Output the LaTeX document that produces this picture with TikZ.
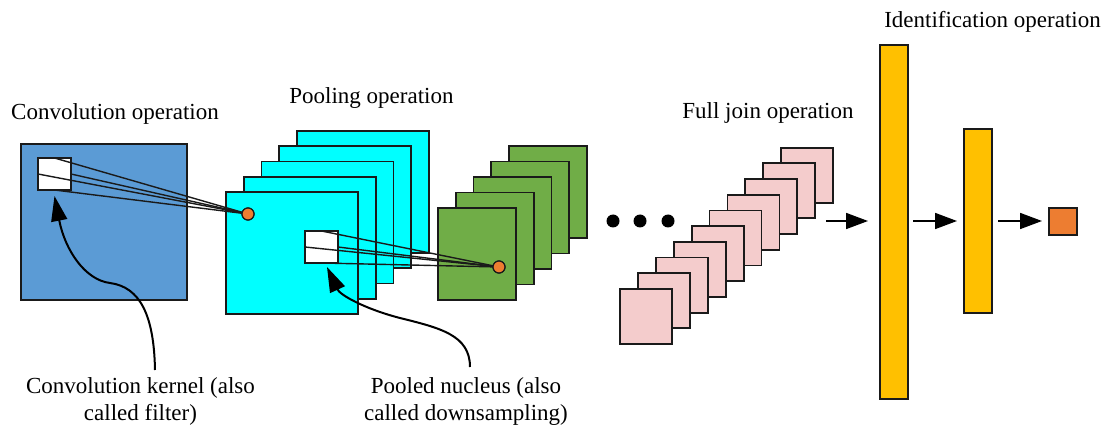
\documentclass[tikz,border=0pt]{standalone}
\usepackage{fontspec}
\setmainfont{Liberation Serif}
\usetikzlibrary{arrows.meta}

\definecolor{convblue}{HTML}{5B9BD5}
\definecolor{poolcyan}{HTML}{00FFFF}
\definecolor{mapgreen}{HTML}{70AD47}
\definecolor{fcpink}{HTML}{F4CCCC}
\definecolor{baryellow}{HTML}{FFC000}
\definecolor{dotorange}{HTML}{ED7D31}
\definecolor{edge}{HTML}{1A1A1A}

\begin{document}
\begin{tikzpicture}[x=1pt,y=-1pt,
  fmap/.style={draw=edge, line width=1.8pt, inner sep=0pt, outer sep=0pt},
  patch/.style={fmap, fill=white},
  probe/.style={circle, draw=edge, line width=1.2pt, fill=dotorange, minimum size=12pt, inner sep=0pt},
  ellip/.style={circle, fill=black, minimum size=13pt, inner sep=0pt},
  ray/.style={draw=edge, line width=1.4pt},
  flow/.style={line width=1.8pt, -{Triangle[length=22pt,width=16pt]}},
  callout/.style={line width=2pt, -{Triangle[length=25pt,width=16pt]}},
  lbl/.style={font=\fontsize{23}{27}\selectfont, inner sep=0pt, anchor=base},
  note/.style={font=\fontsize{23}{27}\selectfont, inner sep=0pt, align=center, anchor=north}]

\useasboundingbox (0,0) rectangle (1108,430);

% input image with its convolution kernel
\node[fmap, fill=convblue, minimum width=166pt, minimum height=156pt] (inp) at (104,222) {};
\node[patch, minimum width=33pt, minimum height=32pt] (kern) at (54.5,174) {};

% convolved feature maps
\foreach \k in {4,3,2,1,0}
  \node[fmap, fill=poolcyan, minimum width=132pt, minimum height=122pt] (cy\k) at ({292+17.75*\k},{253-15.25*\k}) {};

\node[probe] (p1) at (248,214) {};
\foreach \a in {north,west,east,south}
  \draw[ray] (kern.\a) -- (p1.center);
\node[probe] at (p1) {};

% pooling window
\node[patch, minimum width=33pt, minimum height=32pt] (poolk) at (321.5,247) {};

% pooled feature maps
\foreach \k in {4,3,2,1,0}
  \node[fmap, fill=mapgreen, minimum width=78pt, minimum height=92pt] (gr\k) at ({477+17.75*\k},{254-15.5*\k}) {};

\node[probe] (p2) at (499,267) {};
\foreach \a in {north,west,east,south}
  \draw[ray] (poolk.\a) -- (p2.center);
\node[probe] at (p2) {};

% ellipsis
\node[ellip] (d1) at (613,221) {};
\node[ellip] (d2) at (640,221) {};
\node[ellip] (d3) at (668,221) {};

% fully connected stack
\foreach \k in {9,8,...,0}
  \node[fmap, fill=fcpink, minimum width=52pt, minimum height=55pt] (pk\k) at ({646+17.9*\k},{316.5-15.7*\k}) {};

% identification layers
\node[fmap, fill=baryellow, minimum width=28pt, minimum height=354pt] (big) at (894,222) {};
\node[fmap, fill=baryellow, minimum width=28pt, minimum height=184pt] (small) at (978,221) {};
\node[fmap, fill=dotorange, minimum width=28pt, minimum height=27pt] (out) at (1063,221.5) {};

\coordinate (fcout) at (826,221);
\draw[flow, shorten >=12pt] (fcout) -- (big.west |- fcout);
\draw[flow, shorten <=5pt, shorten >=7pt] (big.east |- fcout) -- (small.west |- fcout);
\draw[flow, shorten <=6pt, shorten >=7pt] (small.east |- fcout) -- (out.west |- fcout);

% titles
\node[lbl] (t1) at (115,120) {Convolution operation};
\node[lbl] (t2) at (371.5,104) {Pooling operation};
\node[lbl] (t3) at (768,119) {Full join operation};
\node[lbl] (t4) at (992.5,28) {Identification operation};

% callouts
\node[note] (n1) at (140.5,377) {Convolution kernel (also\\called filter)};
\node[note] (n2) at (466,377) {Pooled nucleus (also\\called downsampling)};

\coordinate (c1) at (155,370);
\coordinate (c2) at (470,367);
\draw[callout] (c1) .. controls (154,315) and (140,287) .. (110,283)
  .. controls (85,280) and (65,250) .. (kern.south |- 0,196);
\draw[callout] (c2) .. controls (470,335) and (440,328) .. (400,318)
  .. controls (365,309) and (340,295) .. (327,267);

\end{tikzpicture}
\end{document}
